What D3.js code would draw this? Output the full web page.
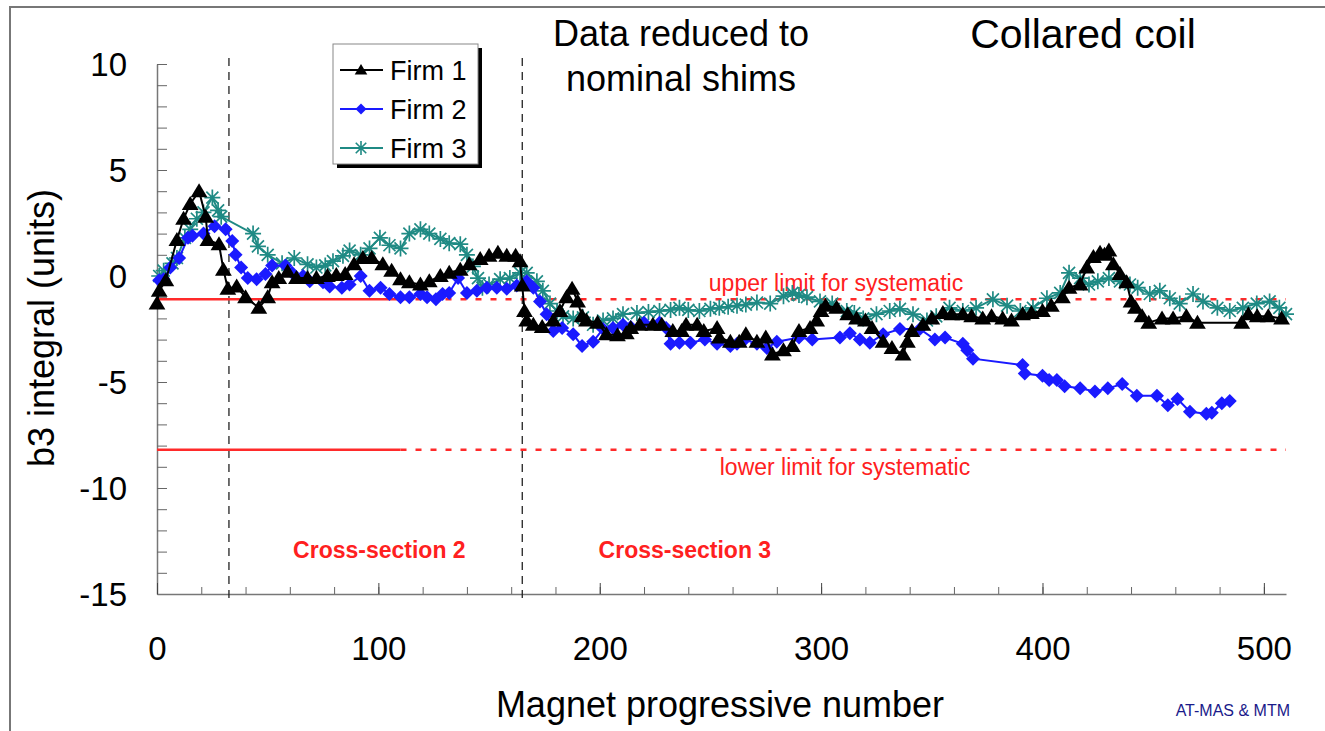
<!DOCTYPE html>
<html>
<head>
<meta charset="utf-8">
<script src="https://cdn.jsdelivr.net/npm/d3@7"></script>
<style>
  body { margin: 0; background: #fff; }
  svg { font-family: "Liberation Sans", Arial, sans-serif; }
</style>
</head>
<body>
<div id="chart"></div>
<script>
// Data: [magnet number, b3 integral]
var firm1Data = [[0,-1.3],[1,-0.7],[4,-0.2],[9,1.7],[12,2.7],[15,3.4],[19,4.0],[22,2.8],[23,1.7],[28,1.5],[30,0.3],[32,-0.6],[36,-0.5],[40,-1.0],[46,-1.5],[50,-1.0],[52,-0.3],[55,-0.1],[59,0.2],[63,-0.1],[68,-0.1],[72,-0.1],[77,0],[81,0.05],[85,0.1],[89,0.55],[93,0.85],[97,0.85],[102,0.55],[106,0.25],[110,-0.15],[114,-0.3],[119,-0.4],[123,-0.25],[128,0],[132,0.15],[137,0.3],[141,0.55],[146,0.8],[150,0.95],[154,1.1],[158,0.95],[162,0.95],[164,0.7],[165,-0.45],[166,-1.65],[167,-2.1],[170,-2.3],[174,-2.4],[179,-2.1],[182,-1.65],[185,-1.0],[187.5,-0.6],[190,-1.2],[192,-1.9],[194,-2.1],[199,-2.2],[203,-2.75],[208,-2.8],[212,-2.7],[214,-2.45],[218,-2.3],[224,-2.3],[228,-2.3],[233,-2.6],[237,-2.6],[239,-2.3],[244,-2.3],[247,-2.6],[253,-2.45],[254,-2.9],[259,-3.1],[263,-3.1],[266,-2.75],[271,-3.1],[275,-2.9],[278,-3.7],[283,-3.5],[287,-3.3],[290,-2.6],[295,-2.45],[298,-2.1],[300,-1.65],[302,-1.4],[307,-1.5],[312,-1.8],[316,-2.0],[320,-2.1],[323,-2.45],[328,-3.1],[332,-3.4],[337,-3.7],[339,-3.1],[341,-2.6],[346,-2.3],[350,-2.0],[355,-1.75],[359,-1.8],[364,-1.8],[368,-1.9],[373,-2.0],[377,-1.9],[382,-2.0],[386,-2.1],[391,-1.8],[395,-1.75],[400,-1.65],[404,-1.4],[409,-1.0],[412,-0.55],[417,-0.4],[420,0.4],[423,0.9],[426,1.1],[428,1.0],[430,1.2],[432,0.55],[435,0.1],[438,-0.3],[440,-1.2],[442,-1.5],[445,-1.9],[448,-2.2],[454,-2.0],[459,-2.0],[465,-1.9],[470,-2.2],[490,-2.2],[493,-1.8],[497,-1.9],[502,-1.9],[508,-2.0]];

var firm2Data = [[1,-0.2],[3,-0.15],[6,0.4],[10,0.85],[14,1.8],[16,1.9],[21,2.0],[26,2.35],[31,2.2],[34,1.65],[35.5,1.0],[38,0.4],[41,-0.1],[45,-0.15],[49,0.1],[52,0.5],[58,0.5],[61,0.15],[66,0],[69,-0.25],[75,-0.3],[78,-0.5],[83.5,-0.55],[87,-0.4],[92,0],[96,-0.7],[101,-0.55],[105,-0.85],[110,-1.0],[114,-1.0],[119,-0.85],[122,-1.0],[126,-1.1],[129,-0.85],[132,-0.8],[136,-0.1],[140,-0.8],[144.5,-0.7],[149,-0.55],[153.5,-0.55],[158,-0.6],[162.5,-0.45],[167,-0.25],[170,-0.55],[173,-1.2],[176,-1.8],[179,-2.6],[183,-2.45],[188,-2.75],[192,-3.3],[197,-3.1],[201.5,-2.5],[206,-2.45],[210.5,-2.3],[214,-2.4],[220,-2.2],[227,-2.2],[230,-2.45],[232,-3.2],[236,-3.15],[241,-3.15],[247.5,-3.0],[253,-3.2],[259,-3.3],[262,-3.2],[265.5,-3.0],[271,-3.2],[275.5,-3.4],[280,-3.1],[290,-2.9],[296,-3.0],[308.5,-2.9],[313,-2.7],[317.5,-3.0],[322,-3.15],[328,-2.75],[335.6,-2.5],[344.6,-2.5],[351.4,-3.0],[356,-2.9],[364,-3.2],[366,-3.5],[368.6,-3.9],[391,-4.2],[392,-4.6],[400,-4.7],[403,-4.9],[406.5,-4.9],[410,-5.2],[417,-5.3],[423.7,-5.45],[429.5,-5.3],[436,-5.1],[442.6,-5.65],[451.7,-5.65],[456.6,-6.1],[461,-5.8],[466.6,-6.4],[474,-6.5],[476.5,-6.45],[481,-6.0],[484.6,-5.9]];

var firm3Data = [[1,0],[3,0.25],[7,0.6],[9,0.85],[12.6,1.8],[15,2.2],[18,2.7],[21,3.0],[25,3.7],[27.6,3.1],[29,2.8],[43.4,2.0],[45.6,1.4],[50,1.0],[56.5,0.6],[62,0.85],[68,0.55],[72,0.4],[76,0.5],[79.5,0.7],[84,0.95],[87,1.2],[92,1.0],[96,1.3],[100.7,1.8],[105,1.45],[110,1.3],[114,2.0],[119,2.2],[123,2.0],[128,1.75],[132,1.55],[137,1.5],[140,1.0],[142.7,0.45],[145,-0.1],[147,-0.55],[150,-0.4],[155,-0.15],[159.4,-0.1],[164,0.15],[167,0.15],[171.6,-0.25],[174.3,-0.7],[177.5,-1.3],[180.7,-1.65],[183.4,-1.9],[188,-2.0],[192.4,-1.95],[197,-2.3],[201.5,-2.1],[206,-2.0],[210.5,-1.8],[216.8,-1.75],[222,-1.7],[227,-1.65],[232,-1.6],[236,-1.5],[240,-1.6],[245,-1.65],[250,-1.55],[254,-1.5],[258,-1.45],[262,-1.4],[266,-1.35],[271,-1.25],[277,-1.3],[283,-0.95],[287,-0.8],[290,-0.9],[293.6,-1.0],[299.5,-1.2],[305,-1.3],[311.6,-1.65],[315,-1.75],[319,-2.0],[325,-1.8],[331,-1.65],[335.6,-1.55],[341.5,-1.8],[347.8,-2.1],[352,-1.9],[358,-1.5],[364,-1.65],[370,-1.5],[377.6,-1.1],[384,-1.4],[390,-1.65],[395.7,-1.5],[402,-1.05],[408,-0.8],[412,0.15],[417,-0.1],[421,-0.4],[425,-0.25],[430,-0.1],[435,-0.25],[439.5,-0.4],[443,-0.55],[448.5,-0.85],[453,-0.7],[457.5,-1.05],[462,-1.3],[468,-0.85],[472.5,-1.2],[479,-1.5],[484.6,-1.65],[490.5,-1.5],[496.8,-1.3],[502.6,-1.2],[507,-1.5],[510,-1.8]];

var seriesNames = ["Firm 1", "Firm 2", "Firm 3"];
var xTicks = [0, 100, 200, 300, 400, 500];
var yTicks = [10, 5, 0, -5, -10, -15];
var upperLimit = -1.1;
var lowerLimit = -8.2;
var solidLimitEnd = 110;      // limits drawn solid up to here, dotted after
var sectionBounds = [32.5, 165]; // dashed vertical lines
var sectionLabels = [{name: "Cross-section 2", x: 100}, {name: "Cross-section 3", x: 238}];

var svgWidth = 1325;
var svgHeight = 731;

var svg = d3.select("#chart")
    .append("svg")
    .attr("width", svgWidth)
    .attr("height", svgHeight);

// outer frame (only top and left edges visible)
svg.append("path")
    .attr("d", "M10,731 L10,7 L1325,7")
    .attr("fill", "none")
    .attr("stroke", "#777")
    .attr("stroke-width", 2);

var xScale = d3.scaleLinear().domain([0, 510]).range([157, 1286]);
var yScale = d3.scaleLinear().domain([-15, 10]).range([594, 64]);

// plain hyphen minus, like the original
var plainNum = function(d) { return String(d); };

// y axis: minor ticks every 1, labels at majors
svg.append("g")
    .attr("transform", "translate(157,0)")
    .call(d3.axisLeft(yScale).tickValues(d3.range(-15, 11, 1)).tickSize(-10).tickSizeOuter(0).tickFormat(""))
    .call(function(g) {
        g.selectAll("line").attr("stroke", "#666");
        g.select(".domain").attr("stroke", "#777").attr("stroke-width", 1.5);
    });

svg.append("g")
    .attr("transform", "translate(157,0)")
    .call(d3.axisLeft(yScale).tickValues(yTicks).tickSize(0).tickPadding(30).tickFormat(plainNum))
    .call(function(g) {
        g.select(".domain").remove();
        g.selectAll("text").attr("font-size", 33).attr("fill", "#000").attr("dy", "0.36em")
            .attr("font-family", "Liberation Sans, Arial, sans-serif");
    });

// x axis
svg.append("g")
    .attr("transform", "translate(0,594)")
    .call(d3.axisBottom(xScale).tickValues(d3.range(0, 501, 20)).tickSize(-7).tickSizeOuter(0).tickFormat(""))
    .call(function(g) {
        g.selectAll("line").attr("stroke", "#666");
        g.select(".domain").attr("stroke", "#777").attr("stroke-width", 1.5);
    });

svg.append("g")
    .attr("transform", "translate(0,594)")
    .call(d3.axisBottom(xScale).tickValues(xTicks).tickSize(-11).tickPadding(43).tickFormat(plainNum))
    .call(function(g) {
        g.select(".domain").remove();
        g.selectAll("line").attr("stroke", "#444");
        g.selectAll("text").attr("font-size", 33).attr("fill", "#000")
            .attr("font-family", "Liberation Sans, Arial, sans-serif");
    });

// section boundaries
svg.selectAll(".bound")
    .data(sectionBounds)
    .enter()
    .append("line")
    .attr("class", "bound")
    .attr("x1", function(d) { return xScale(d); })
    .attr("x2", function(d) { return xScale(d); })
    .attr("y1", 58)
    .attr("y2", 600)
    .attr("stroke", "#222")
    .attr("stroke-width", 1.3)
    .attr("stroke-dasharray", "8,6");

// limit lines
[upperLimit, lowerLimit].forEach(function(v) {
    svg.append("line")
        .attr("x1", xScale(0)).attr("x2", xScale(solidLimitEnd))
        .attr("y1", yScale(v)).attr("y2", yScale(v))
        .attr("stroke", "#ff2a2a").attr("stroke-width", 2.5);
    svg.append("line")
        .attr("x1", xScale(solidLimitEnd)).attr("x2", xScale(510))
        .attr("y1", yScale(v)).attr("y2", yScale(v))
        .attr("stroke", "#ff2a2a").attr("stroke-width", 2.5)
        .attr("stroke-dasharray", "6,9");
});

svg.append("text")
    .attr("x", 836).attr("y", yScale(upperLimit) - 8)
    .attr("text-anchor", "middle").attr("font-size", 23).attr("fill", "#ff2020")
    .text("upper limit for systematic");
svg.append("text")
    .attr("x", 845).attr("y", yScale(lowerLimit) + 25)
    .attr("text-anchor", "middle").attr("font-size", 23).attr("fill", "#ff2020")
    .text("lower limit for systematic");

svg.selectAll(".section")
    .data(sectionLabels)
    .enter()
    .append("text")
    .attr("x", function(d) { return xScale(d.x) + 1; })
    .attr("y", 558)
    .attr("text-anchor", "middle")
    .attr("font-size", 23)
    .attr("font-weight", "bold")
    .attr("fill", "#ff2020")
    .text(function(d) { return d.name; });

// series
var line = d3.line()
    .x(function(d) { return xScale(d[0]); })
    .y(function(d) { return yScale(d[1]); });

var colors = ["#000000", "#1a1aff", "#1f8a84"];

function triangle(s) { return "M0," + (-s) + "L" + (s * 1.05) + "," + (s * 0.75) + "L" + (-s * 1.05) + "," + (s * 0.75) + "Z"; }
function diamond(s) { return "M0," + (-s) + "L" + s + ",0L0," + s + "L" + (-s) + ",0Z"; }
function star(s) {
    var d = s * 0.75;
    return "M0," + (-s) + "L0," + s + "M" + (-d) + "," + (-d) + "L" + d + "," + d + "M" + (-d) + "," + d + "L" + d + "," + (-d) + "M" + (-s) + ",0L" + s + ",0";
}

function drawSeries(data, color, kind) {
    svg.append("path")
        .datum(data)
        .attr("d", line)
        .attr("fill", "none")
        .attr("stroke", color)
        .attr("stroke-width", 2);

    var marks = svg.append("g").selectAll("path")
        .data(data)
        .enter()
        .append("path")
        .attr("transform", function(d) { return "translate(" + xScale(d[0]) + "," + yScale(d[1]) + ")"; });
    if (kind === "tri") marks.attr("d", triangle(8)).attr("fill", color);
    if (kind === "dia") marks.attr("d", diamond(7)).attr("fill", color);
    if (kind === "star") marks.attr("d", star(8)).attr("fill", "none").attr("stroke", color).attr("stroke-width", 1.7);
}

drawSeries(firm3Data, colors[2], "star");
drawSeries(firm2Data, colors[1], "dia");
drawSeries(firm1Data, colors[0], "tri");

// legend
var legend = svg.append("g");
legend.append("rect").attr("x", 337).attr("y", 48).attr("width", 145).attr("height", 120).attr("fill", "#000");
legend.append("rect").attr("x", 333).attr("y", 44).attr("width", 145).attr("height", 120)
    .attr("fill", "#fff").attr("stroke", "#888").attr("stroke-width", 1);
var kinds = ["tri", "dia", "star"];
seriesNames.forEach(function(name, i) {
    var cy = 70 + i * 39;
    legend.append("line").attr("x1", 340).attr("x2", 383).attr("y1", cy).attr("y2", cy)
        .attr("stroke", colors[i]).attr("stroke-width", 2);
    var m = legend.append("path").attr("transform", "translate(361," + cy + ")");
    if (kinds[i] === "tri") m.attr("d", triangle(6)).attr("fill", colors[i]);
    if (kinds[i] === "dia") m.attr("d", diamond(5.5)).attr("fill", colors[i]);
    if (kinds[i] === "star") m.attr("d", star(7)).attr("fill", "none").attr("stroke", colors[i]).attr("stroke-width", 1.6);
    legend.append("text").attr("x", 390).attr("y", cy + 10).attr("font-size", 27).attr("fill", "#000").text(name);
});

// annotations
svg.append("text").attr("x", 681).attr("y", 46).attr("text-anchor", "middle").attr("font-size", 36).text("Data reduced to");
svg.append("text").attr("x", 681).attr("y", 91).attr("text-anchor", "middle").attr("font-size", 36).text("nominal shims");
svg.append("text").attr("x", 1083).attr("y", 48).attr("text-anchor", "middle").attr("font-size", 41).text("Collared coil");

// axis titles
svg.append("text")
    .attr("transform", "translate(54,328) rotate(-90)")
    .attr("text-anchor", "middle")
    .attr("font-size", 36)
    .text("b3 integral (units)");
svg.append("text")
    .attr("x", 720).attr("y", 717)
    .attr("text-anchor", "middle")
    .attr("font-size", 36)
    .text("Magnet progressive number");

svg.append("text")
    .attr("x", 1290).attr("y", 716)
    .attr("text-anchor", "end")
    .attr("font-size", 16)
    .attr("fill", "#1a1a8a")
    .text("AT-MAS & MTM");
</script>
</body>
</html>
